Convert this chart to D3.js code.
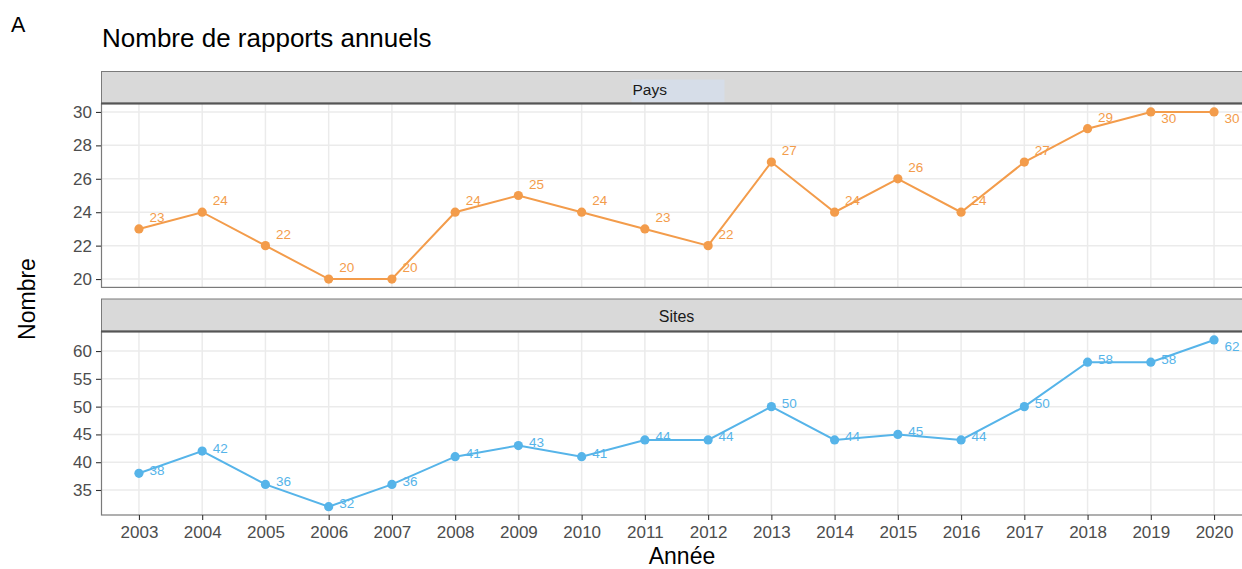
<!DOCTYPE html>
<html>
<head>
<meta charset="utf-8">
<script src="https://cdn.jsdelivr.net/npm/d3@7/dist/d3.min.js"></script>
<style>
  html, body { margin: 0; padding: 0; background: #ffffff; }
  svg { display: block; font-family: "Liberation Sans", Arial, sans-serif; }
</style>
</head>
<body>
<svg id="chart" width="1242" height="569"></svg>
<script>
// Annual report counts, by year
const years = [2003, 2004, 2005, 2006, 2007, 2008, 2009, 2010, 2011, 2012,
               2013, 2014, 2015, 2016, 2017, 2018, 2019, 2020];
const paysValues  = [23, 24, 22, 20, 20, 24, 25, 24, 23, 22, 27, 24, 26, 24, 27, 29, 30, 30];
const sitesValues = [38, 42, 36, 32, 36, 41, 43, 41, 44, 44, 50, 44, 45, 44, 50, 58, 58, 62];
const paysTicks  = [20, 22, 24, 26, 28, 30];
const sitesTicks = [35, 40, 45, 50, 55, 60];
const facetNames = ["Pays", "Sites"];

const svg = d3.select("#chart");

// Shared layout
const panelLeft = 101, panelRight = 1252;
const gridColor = "#ebebeb";
const tickColor = "#4d4d4d";

const x = d3.scalePoint().domain(years).range([panelLeft, panelRight]).padding(0.6);

const facets = [
  { name: facetNames[0], values: paysValues, ticks: paysTicks, color: "#f39c4b",
    stripTop: 71, top: 103.6, bottom: 287.4, labelDy: -11.5, highlight: true },
  { name: facetNames[1], values: sitesValues, ticks: sitesTicks, color: "#56b4e9",
    stripTop: 298.5, top: 331.6, bottom: 515, labelDy: -3.3, highlight: false }
];

// Headings
svg.append("text").attr("x", 11).attr("y", 32)
  .attr("font-size", 21.5).attr("fill", "#000").text("A");
svg.append("text").attr("x", 102).attr("y", 47)
  .attr("font-size", 26).attr("fill", "#000").text("Nombre de rapports annuels");

facets.forEach(f => {
  const lo = d3.min(f.values), hi = d3.max(f.values);
  const pad = (hi - lo) * 0.05;
  const y = d3.scaleLinear().domain([lo - pad, hi + pad]).range([f.bottom, f.top]);
  const g = svg.append("g");

  // strip
  g.append("rect")
    .attr("x", panelLeft + 0.5).attr("y", f.stripTop + 0.5)
    .attr("width", panelRight - panelLeft).attr("height", f.top - f.stripTop - 1)
    .attr("fill", "#d9d9d9").attr("stroke", "#7a7a7a").attr("stroke-width", 1);
  const cx = (panelLeft + panelRight) / 2;
  if (f.highlight) {
    g.append("rect").attr("x", cx - 45).attr("y", f.stripTop + 8.5)
      .attr("width", 93).attr("height", f.top - f.stripTop - 10)
      .attr("fill", "#d6dde8");
    g.append("text").attr("x", cx - 44).attr("y", f.stripTop + 23.5)
      .attr("font-size", 15.5).attr("fill", "#1a1a1a").text(f.name);
  } else {
    g.append("text").attr("x", cx).attr("y", f.stripTop + 23.5)
      .attr("text-anchor", "middle")
      .attr("font-size", 16).attr("fill", "#1a1a1a").text(f.name);
  }

  // grid
  g.append("g").selectAll("line").data(f.ticks).join("line")
    .attr("x1", panelLeft).attr("x2", panelRight)
    .attr("y1", d => y(d)).attr("y2", d => y(d))
    .attr("stroke", gridColor).attr("stroke-width", 1.5);
  g.append("g").selectAll("line").data(years).join("line")
    .attr("x1", d => x(d)).attr("x2", d => x(d))
    .attr("y1", f.top).attr("y2", f.bottom)
    .attr("stroke", gridColor).attr("stroke-width", 1.5);

  // panel border
  g.append("rect")
    .attr("x", panelLeft + 0.5).attr("y", f.top)
    .attr("width", panelRight - panelLeft).attr("height", f.bottom - f.top)
    .attr("fill", "none").attr("stroke", "#7a7a7a").attr("stroke-width", 1.2);
  // darker strip separator
  g.append("line").attr("x1", panelLeft).attr("x2", panelRight)
    .attr("y1", f.top).attr("y2", f.top)
    .attr("stroke", "#555").attr("stroke-width", 2);

  // y axis
  const yAxis = g.append("g").attr("transform", `translate(${panelLeft},0)`)
    .call(d3.axisLeft(y).tickValues(f.ticks).tickSize(5).tickPadding(4));
  yAxis.select(".domain").remove();
  yAxis.selectAll(".tick line").attr("stroke", "#333").attr("stroke-width", 1.1);
  yAxis.selectAll(".tick text").attr("fill", tickColor)
    .attr("font-size", 17).attr("font-family", "Liberation Sans, Arial, sans-serif");

  // series line and points
  const pts = years.map((yr, i) => ({ year: yr, value: f.values[i] }));
  g.append("path").datum(pts)
    .attr("fill", "none").attr("stroke", f.color).attr("stroke-width", 2)
    .attr("d", d3.line().x(d => x(d.year)).y(d => y(d.value)));
  g.append("g").selectAll("circle").data(pts).join("circle")
    .attr("cx", d => x(d.year)).attr("cy", d => y(d.value)).attr("r", 4.6)
    .attr("fill", f.color);

  // value labels: beside each point, flipped below when they would leave the panel
  g.append("g").selectAll("text").data(pts).join("text")
    .attr("x", d => x(d.year) + 10.5)
    .attr("y", d => {
      let c = y(d.value) + f.labelDy;
      if (c - 6 < f.top) c = y(d.value) + 6;
      return c;
    })
    .attr("dy", "0.35em")
    .attr("font-size", 13.5).attr("fill", f.color)
    .text(d => d.value);

  // x axis on the lower panel
  if (f === facets[facets.length - 1]) {
    const xAxis = g.append("g").attr("transform", `translate(0,${f.bottom})`)
      .call(d3.axisBottom(x).tickSize(5).tickPadding(6));
    xAxis.select(".domain").remove();
    xAxis.selectAll(".tick line").attr("stroke", "#333").attr("stroke-width", 1.1);
    xAxis.selectAll(".tick text").attr("fill", tickColor)
      .attr("font-size", 17).attr("font-family", "Liberation Sans, Arial, sans-serif");
  }
});

// axis titles
svg.append("text").attr("transform", "translate(35,299) rotate(-90)")
  .attr("text-anchor", "middle").attr("font-size", 23).attr("fill", "#000").text("Nombre");
svg.append("text").attr("x", 682).attr("y", 564)
  .attr("text-anchor", "middle").attr("font-size", 23).attr("fill", "#000").text("Année");
</script>
</body>
</html>
